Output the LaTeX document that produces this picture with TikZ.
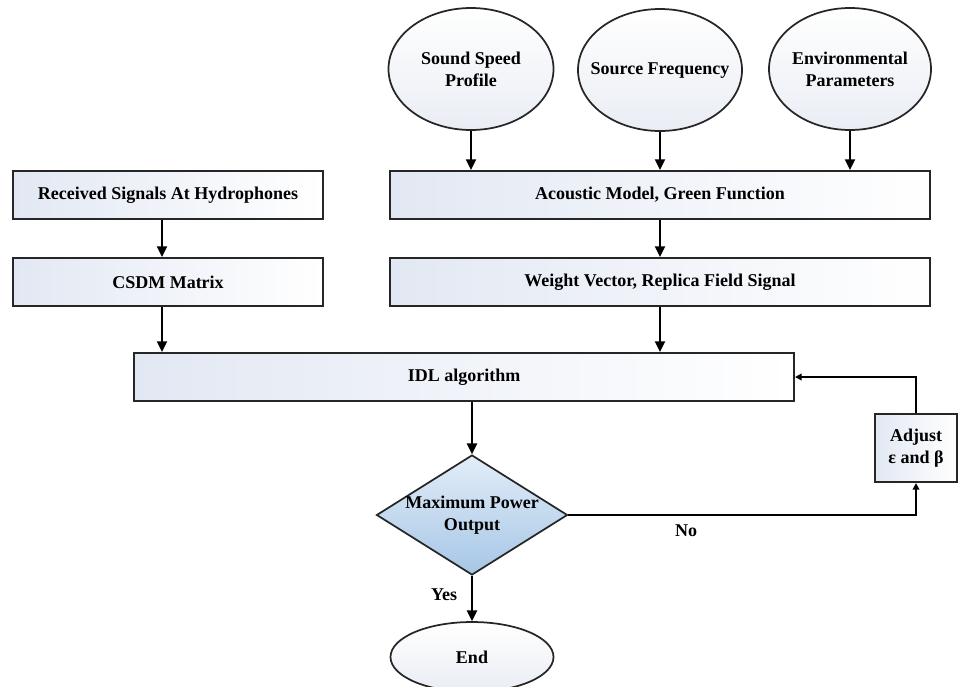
\documentclass[tikz,border=0pt]{standalone}
\usepackage{fontspec}
\setmainfont{Liberation Serif}
\usetikzlibrary{shapes.geometric,arrows.meta}
\definecolor{boxL}{HTML}{E2E8F3}
\definecolor{ellB}{HTML}{E9EDF4}
\definecolor{diaT}{HTML}{E2EDF8}
\definecolor{diaB}{HTML}{A6C6E6}
\tikzset{
  every node/.style={font=\fontsize{13.5}{16.5}\selectfont\bfseries, align=center, text=black},
  rbox/.style={draw=black!85, line width=1.5pt, rectangle, left color=boxL, right color=white, inner sep=0pt},
  ell/.style={draw=black!85, line width=1.3pt, ellipse, top color=white, bottom color=ellB, inner sep=0pt},
  dec/.style={draw=black!85, line width=1.3pt, diamond, top color=diaT, bottom color=diaB, inner sep=0pt},
  conn/.style={line width=1.5pt, -{Triangle[length=8pt,width=7.5pt]}},
  sconn/.style={line width=1.5pt, -{Triangle[length=5pt,width=5pt]}},
  lab/.style={font=\fontsize{13.5}{16.5}\selectfont\bfseries}
}
\begin{document}
\begin{tikzpicture}[x=0.75pt,y=-0.75pt]
\clip (0,0) rectangle (959,686);
\fill[white] (0,0) rectangle (959,686);
% ellipses
\node[ell, minimum width=123.75pt, minimum height=91.5pt] (ssp) at (471,69) {};
\node[lab] (sspt) at (ssp.center) {Sound Speed\\Profile};
\node[ell, minimum width=123pt, minimum height=91.5pt] (sf) at (660,70) {};
\node[lab] (sft) at (sf.center) {Source Frequency};
\node[ell, minimum width=121.5pt, minimum height=91.5pt] (env) at (850,69) {};
\node[lab] (envt) at (env.center) {Environmental\\Parameters};
% boxes
\node[rbox, minimum width=232.5pt, minimum height=36pt] (rec) at (168,195) {Received Signals At Hydrophones};
\node[rbox, minimum width=232.5pt, minimum height=36pt] (csdm) at (168,282) {CSDM Matrix};
\node[rbox, minimum width=405pt, minimum height=36pt] (ac) at (660,195) {Acoustic Model, Green Function};
\node[rbox, minimum width=405pt, minimum height=36pt] (wv) at (660,282) {Weight Vector, Replica Field Signal};
\node[rbox, minimum width=495pt, minimum height=36pt] (idl) at (464,377) {IDL algorithm};
\node[dec, minimum width=143.25pt, minimum height=90pt] (dia) at (472,515) {};
\node[lab] (diat) at (dia.center) {Maximum Power\\Output};
\node[rbox, minimum width=61.5pt, minimum height=51pt] (adj) at (916,448) {Adjust\\ε and β};
\node[ell, minimum width=122.25pt, minimum height=52.5pt] (end) at (472,657) {};
\node[lab] (endt) at (end.center) {End};
% connectors
\draw[conn] (ssp.south) -- (ssp.south |- ac.north);
\draw[conn] (sf.south) -- (sf.south |- ac.north);
\draw[conn] (env.south) -- (env.south |- ac.north);
\draw[conn] (ac.south) -- (wv.north);
\draw[conn] ([xshift=-4.5pt]rec.south) -- ([xshift=-4.5pt]csdm.north);
\draw[conn] ([xshift=-4.5pt]csdm.south) -- ([xshift=-4.5pt]csdm.south |- idl.north);
\draw[conn] (wv.south) -- (wv.south |- idl.north);
\draw[conn] (dia.north |- idl.south) -- (dia.north);
\draw[conn] (dia.south) -- (end.north);
\draw[sconn] (dia.east) -- (dia.east -| adj.south) -- (adj.south);
\draw[sconn] (adj.north) -- (adj.north |- idl.east) -- (idl.east);
% labels
\node[lab] (no) at (686,531) {No};
\node[lab] (yes) at (444,595) {Yes};
\end{tikzpicture}
\end{document}
